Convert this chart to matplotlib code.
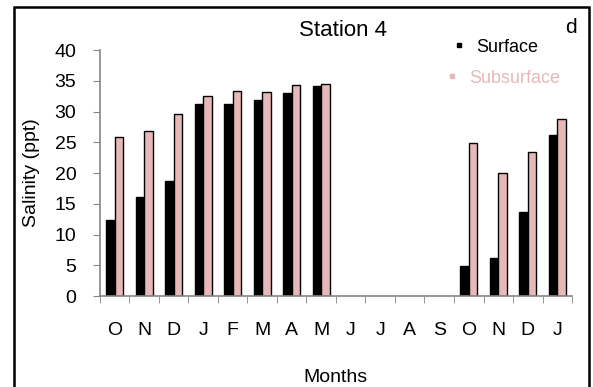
import numpy as np
import matplotlib.pyplot as plt
from matplotlib.patches import Rectangle
from matplotlib.lines import Line2D

plt.rcParams['font.family'] = ['Liberation Sans', 'DejaVu Sans']

# ------------------------------------ Data ----------------------------------
months = ["O", "N", "D", "J", "F", "M", "A", "M", "J", "J", "A", "S", "O", "N", "D", "J"]
surface = [12.4, 16.1, 18.7, 31.2, 31.2, 31.9, 33.0, 34.1,
           np.nan, np.nan, np.nan, np.nan, 4.9, 6.2, 13.7, 26.2]
subsurface = [25.8, 26.8, 29.6, 32.5, 33.4, 33.1, 34.3, 34.5,
              np.nan, np.nan, np.nan, np.nan, 24.9, 20.0, 23.4, 28.8]

PINK = "#E6B9B8"
GREY = "#868686"

# ------------------------------------ Figure ----------------------------------
fig = plt.figure(figsize=(5.93, 3.87), dpi=100)
ax = fig.add_axes([0.1686, 0.2351, 0.796, 0.6357])

x = np.arange(len(months))
w = 0.29
ax.bar(x - w / 2, surface, width=w, color="black", edgecolor="black", linewidth=1)
ax.bar(x + w / 2, subsurface, width=w, color=PINK, edgecolor="black", linewidth=1)

ax.set_xlim(-0.5, len(months) - 0.5)
ax.set_ylim(0, 40)
ax.set_yticks(np.arange(0, 41, 5))
ax.tick_params(axis="y", direction="out", length=5, color=GREY, labelsize=14, pad=12)

# month labels centred, tick marks on the category boundaries
ax.set_xticks(x)
ax.set_xticklabels(months)
ax.set_xticks(np.arange(-0.5, len(months)), minor=True)
ax.tick_params(axis="x", which="major", length=0, labelsize=14, pad=19)
ax.tick_params(axis="x", which="minor", direction="out", length=5, color=GREY)

for s in ["top", "right"]:
    ax.spines[s].set_visible(False)
for s in ["left", "bottom"]:
    ax.spines[s].set_color(GREY)
    ax.spines[s].set_linewidth(1.2)

# axis titles and labels placed in figure coordinates
fig.text(32 / 593, 0.553, "Salinity (ppt)", fontsize=14, rotation=90,
         ha="center", va="center")
fig.text(0.566, 0.013, "Months", fontsize=14, ha="center", va="baseline")
fig.text(0.578, 0.907, "Station 4", fontsize=16, ha="center", va="baseline")
fig.text(0.963, 0.915, "d", fontsize=15, ha="center", va="baseline")

# legend drawn by hand: small square markers with text
fig.add_artist(Line2D([459 / 593], [1 - 45 / 387], marker="s", markersize=3,
                      color="black", linestyle="none", transform=fig.transFigure))
fig.text(0.803, 0.866, "Surface", fontsize=13, color="black", ha="left", va="baseline")
fig.add_artist(Line2D([452 / 593], [1 - 76 / 387], marker="s", markersize=3,
                      color=PINK, linestyle="none", transform=fig.transFigure))
fig.text(0.791, 0.786, "Subsurface", fontsize=13, color=PINK, ha="left", va="baseline")

# outer frame
fig.patches.append(Rectangle((14 / 593, -0.1), 575 / 593, 1.1 - 7 / 387,
                             transform=fig.transFigure, fill=False,
                             edgecolor="black", linewidth=1.8))

fig.savefig("out.png", dpi=100)
